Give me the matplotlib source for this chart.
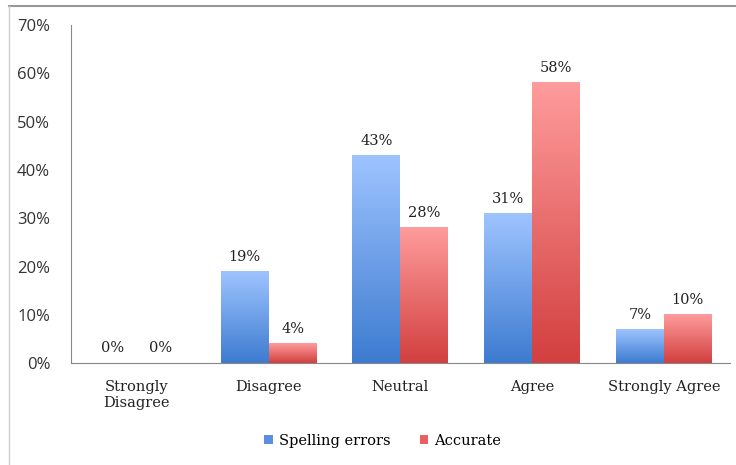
import matplotlib
matplotlib.use('Agg')
import matplotlib.pyplot as plt
import numpy as np
from matplotlib.colors import LinearSegmentedColormap
from matplotlib.lines import Line2D
from matplotlib.patches import Patch

# Data
categories = ["Strongly\nDisagree", "Disagree", "Neutral", "Agree", "Strongly Agree"]
spelling = [0, 19, 43, 31, 7]
accurate = [0, 4, 28, 58, 10]
series_names = ["Spelling errors", "Accurate"]

serif = ['DejaVu Serif']
sans = ['Open Sans', 'DejaVu Sans']

blue_cmap = LinearSegmentedColormap.from_list("b", ["#3d7bd0", "#9ec4ff"])
red_cmap = LinearSegmentedColormap.from_list("r", ["#d23f3f", "#ff9c9c"])

fig = plt.figure(figsize=(7.36, 4.65), dpi=100)
ax = fig.add_axes([0.0965, 0.219, 0.895, 0.727])

x = np.arange(len(categories))
w = 0.364
bars_b = ax.bar(x - w / 2, spelling, w, color="#5a8fe0", label=series_names[0])
bars_r = ax.bar(x + w / 2, accurate, w, color="#e86060", label=series_names[1])

# gradient fill on each bar
grad = np.linspace(0, 1, 256).reshape(-1, 1)
for bars, cmap in ((bars_b, blue_cmap), (bars_r, red_cmap)):
    for b in bars:
        h = b.get_height()
        if h <= 0:
            continue
        x0 = b.get_x()
        ax.imshow(grad, cmap=cmap, aspect='auto', origin='lower',
                  extent=[x0, x0 + b.get_width(), 0, h], zorder=2)
        b.set_alpha(0)

for bars, vals in ((bars_b, spelling), (bars_r, accurate)):
    for b, v in zip(bars, vals):
        ax.text(b.get_x() + b.get_width() / 2, v + 1.6, f"{v}%",
                ha='center', va='bottom', fontsize=10.5, family=serif,
                color="#222222")

ax.set_xlim(-0.5, len(categories) - 0.5)
ax.set_ylim(0, 70)
ax.set_yticks(range(0, 71, 10))
ax.set_yticklabels([f"{t}%" for t in range(0, 71, 10)], family=sans,
                   fontsize=12, color="#333333")
ax.set_xticks(x)
ax.set_xticklabels(categories, family=serif, fontsize=10.5, color="#222222")
ax.tick_params(axis='both', length=0)
ax.tick_params(axis='y', pad=15)
ax.tick_params(axis='x', pad=12)

for s in ('top', 'right'):
    ax.spines[s].set_visible(False)
ax.spines['left'].set_color('#888888')
ax.spines['bottom'].set_color('#888888')

handles = [Patch(facecolor="#5a8fe0", edgecolor='none'),
           Patch(facecolor="#e86060", edgecolor='none')]
fig.legend(handles, series_names, loc='center', bbox_to_anchor=(0.52, 0.052),
           ncol=2, frameon=False, prop={'family': serif, 'size': 10.5},
           handlelength=0.6, handleheight=0.6, handletextpad=0.4,
           columnspacing=2.0)

# outer frame lines (top and left)
fig.add_artist(Line2D([0.012, 1.0], [0.988, 0.988], color='#999999', lw=1.5,
                      transform=fig.transFigure))
fig.add_artist(Line2D([0.012, 0.012], [0.0, 0.988], color='#cccccc', lw=1,
                      transform=fig.transFigure))

fig.savefig("out.png", dpi=100)
